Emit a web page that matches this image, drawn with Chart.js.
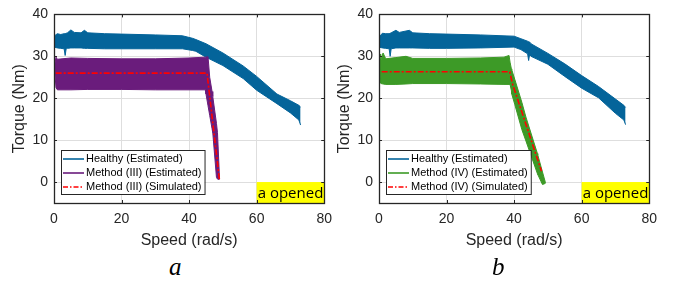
<!DOCTYPE html>
<html>
<head>
<meta charset="utf-8">
<script src="https://cdn.jsdelivr.net/npm/chart.js@4.4.1/dist/chart.umd.min.js"></script>
<style>
  body { margin: 0; background: #fff; width: 679px; height: 284px; position: relative; overflow: hidden; }
  .panel { position: absolute; top: 0; width: 340px; height: 250px; }
  .tag { position: absolute; top: 254px; font: italic 25px "Liberation Serif", "DejaVu Serif", serif; line-height: 25px; color: #000; }
</style>
</head>
<body>
<div class="panel" style="left:0"><canvas id="chartA" width="340" height="250"></canvas></div>
<div class="panel" style="left:325px"><canvas id="chartB" width="340" height="250"></canvas></div>
<div class="tag" style="left:169px">a</div>
<div class="tag" style="left:492px">b</div>
<script>
const xTicks = [0, 20, 40, 60, 80];
const yTicks = [0, 10, 20, 30, 40];
const openedX = [60, 80];
const openedY = [-5, 0];
const openedText = 'a opened';

// panel a: each band = one speed list + upper and lower torque envelope
const healthyAX  = [0, 1, 2, 3, 3.3, 3.6, 4, 5, 6, 8, 9, 10, 15, 20, 30, 38, 41, 42, 45, 50, 56, 60, 66, 70, 72.5, 73];
const healthyAUp = [34.8, 35.4, 35.2, 35.4, 35.4, 35.5, 35.6, 36.3, 35.7, 35.6, 36.2, 35.6, 35.4, 35.3, 35.1, 34.9, 34.3, 34.0, 33.0, 30.8, 27.7, 25.2, 21.0, 19.4, 18.3, 17.9];
const healthyALo = [32.2, 32.0, 31.9, 31.8, 30.2, 31.8, 31.9, 32.0, 32.0, 32.0, 31.9, 31.9, 31.8, 31.8, 31.8, 31.8, 31.4, 31.2, 29.8, 27.8, 24.7, 21.9, 18.7, 16.5, 14.8, 13.6];
const methodAX  = [0.3, 0.6, 1, 5, 10, 20, 30, 40, 44.8, 45.0, 45.6, 46.1, 46.8, 47.0, 48.1, 48.4, 49.0];
const methodAUp = [28.5, 29.8, 29.3, 29.6, 29.5, 29.4, 29.4, 29.6, 29.8, 29.8, 29.9, 25.0, 21.6, 20.4, 14.0, 11.8, 1.0];
const methodALo = [25.5, 22.5, 22.0, 22.0, 22.1, 22.1, 22.0, 22.0, 22.0, 21.0, 18.2, 15.9, 12.7, 11.8, 1.1, 0.7, 0.6];
const simAX = [0.5, 45.3, 49.0];
const simAY = [26, 26, 0.4];
const labelsA = ['Healthy (Estimated)', 'Method (III) (Estimated)', 'Method (III) (Simulated)'];

// panel b
const healthyBX  = [0, 1, 2, 3, 3.3, 3.6, 5, 6, 9, 10, 15, 20, 30, 40, 42, 44, 44.3, 44.6, 45, 50, 55, 60, 65, 70, 72.5, 73];
const healthyBUp = [34.6, 35.5, 35.4, 35.4, 35.5, 35.6, 36.2, 35.7, 36.2, 35.6, 35.4, 35.3, 35.1, 34.8, 34.2, 33.6, 33.5, 33.4, 33.0, 30.7, 28.2, 25.4, 22.8, 19.8, 18.3, 17.8];
const healthyBLo = [32.2, 32.0, 31.9, 31.8, 30.0, 31.8, 32.0, 32.0, 32.0, 32.0, 31.9, 31.9, 32.0, 32.2, 31.6, 30.6, 29.0, 30.5, 30.0, 28.1, 25.2, 22.4, 20.1, 16.4, 14.8, 13.7];
const methodBX  = [0, 0.3, 0.5, 0.6, 1.2, 2, 5, 8, 10, 20, 30, 37, 38.5, 38.8, 39.2, 39.3, 40.2, 42.3, 43.5, 46.9, 47, 48.4, 49.3];
const methodBUp = [28.3, 30.5, 29.8, 29.2, 30.8, 29.4, 29.7, 30.0, 29.5, 29.5, 29.6, 29.8, 30.2, 28.6, 27.0, 26.8, 24.5, 19.0, 15.5, 6.8, 6.5, 2.4, -0.2];
const methodBLo = [25.5, 24.6, 23.6, 23.5, 23.4, 23.3, 23.3, 23.4, 23.5, 23.5, 23.4, 23.3, 23.3, 23.3, 21.8, 21.0, 18.5, 12.5, 9.8, 2.0, 1.8, -0.6, -0.3];
const simBX = [0.8, 38.7, 39.5, 48.1];
const simBY = [26.3, 26.3, 23.5, 2.6];
const labelsB = ['Healthy (Estimated)', 'Method (IV) (Estimated)', 'Method (IV) (Simulated)'];

const BLUE = '#04649a';
const PURPLE = '#6a1c7c';
const GREEN = '#3d9a27';
const RED = '#ff0000';
const AXIS = '#262626';
const SANS = '"Liberation Sans", Arial, sans-serif';

function pts(xs, ys) {
  return xs.map((x, i) => ({ x: x, y: ys[i] }));
}

const openedPlugin = {
  id: 'opened',
  beforeDatasetsDraw(chart) {
    const { ctx, scales: { x, y } } = chart;
    const x0 = x.getPixelForValue(openedX[0]), x1 = x.getPixelForValue(openedX[1]);
    const y0 = y.getPixelForValue(openedY[1]), y1 = y.getPixelForValue(openedY[0]);
    ctx.save();
    ctx.fillStyle = '#ffff00';
    ctx.fillRect(x0, y0, x1 - x0, y1 - y0);
    ctx.fillStyle = '#000';
    ctx.font = '15px "Open Sans", sans-serif';
    ctx.textBaseline = 'alphabetic';
    ctx.fillText(openedText, x0 + 1, y1 - 5);
    ctx.restore();
  }
};

const boxPlugin = {
  id: 'axesBox',
  afterDraw(chart, args, opts) {
    const { ctx, chartArea: a, scales: { x, y } } = chart;
    ctx.save();
    ctx.strokeStyle = AXIS;
    ctx.lineWidth = 1;
    ctx.beginPath();
    xTicks.forEach(v => {
      const px = Math.round(x.getPixelForValue(v)) + 0.5;
      ctx.moveTo(px, a.bottom); ctx.lineTo(px, a.bottom - 3);
      ctx.moveTo(px, a.top); ctx.lineTo(px, a.top + 3);
    });
    yTicks.forEach(v => {
      const py = Math.round(y.getPixelForValue(v)) + 0.5;
      ctx.moveTo(a.left, py); ctx.lineTo(a.left + 3, py);
      ctx.moveTo(a.right, py); ctx.lineTo(a.right - 3, py);
    });
    ctx.stroke();
    ctx.lineWidth = 1.3;
    ctx.strokeRect(Math.round(a.left) + 0.5, Math.round(a.top) + 0.5, Math.round(a.right - a.left), Math.round(a.bottom - a.top));

    // legend inside the axes
    const items = opts.items;
    ctx.font = '11px ' + SANS;
    const tw = Math.max(...items.map(it => ctx.measureText(it.text).width));
    const w = 25 + tw + 3, h = 44;
    const lx = Math.round(a.left) + 7, ly = Math.round(a.bottom) - 9 - h;
    ctx.fillStyle = '#fff';
    ctx.fillRect(lx, ly, w, h);
    ctx.lineWidth = 1;
    ctx.strokeStyle = AXIS;
    ctx.strokeRect(lx + 0.5, ly + 0.5, w, h);
    items.forEach((it, i) => {
      const yy = ly + 9 + i * 14;
      ctx.strokeStyle = it.color;
      ctx.lineWidth = 1.6;
      ctx.setLineDash(it.dash || []);
      ctx.beginPath(); ctx.moveTo(lx + 2, yy); ctx.lineTo(lx + 23, yy); ctx.stroke();
      ctx.setLineDash([]);
      ctx.fillStyle = '#000';
      ctx.textBaseline = 'middle';
      ctx.fillText(it.text, lx + 25, yy);
    });
    ctx.restore();
  }
};

function makeChart(id, hX, hUp, hLo, mX, mUp, mLo, sX, sY, labels, mColor) {
  const line = { showLine: true, pointRadius: 0, tension: 0, borderWidth: 1 };
  new Chart(document.getElementById(id), {
    type: 'line',
    data: {
      datasets: [
        Object.assign({ label: labels[0], data: pts(hX, hUp), borderColor: BLUE, fill: false, order: 5 }, line),
        Object.assign({ label: labels[0] + ' lo', data: pts(hX, hLo), borderColor: BLUE, backgroundColor: BLUE, fill: '-1', order: 4 }, line),
        Object.assign({ label: labels[1], data: pts(mX, mUp), borderColor: mColor, fill: false, order: 3 }, line),
        Object.assign({ label: labels[1] + ' lo', data: pts(mX, mLo), borderColor: mColor, backgroundColor: mColor, fill: '-1', order: 2 }, line),
        Object.assign({}, line, { label: labels[2], data: pts(sX, sY), borderColor: RED, borderWidth: 1.6, borderDash: [6, 2, 2, 2], fill: false, order: 1 })
      ]
    },
    options: {
      responsive: false,
      animation: false,
      layout: { padding: { top: 6, right: 13, left: 0, bottom: 0 } },
      plugins: {
        legend: { display: false },
        tooltip: { enabled: false },
        axesBox: {
          items: [
            { text: labels[0], color: BLUE },
            { text: labels[1], color: mColor },
            { text: labels[2], color: RED, dash: [5, 2, 1.5, 2] }
          ]
        }
      },
      scales: {
        x: {
          type: 'linear', min: 0, max: 80,
          afterBuildTicks: s => { s.ticks = xTicks.map(v => ({ value: v })); },
          afterFit: s => { s.height = 47; },
          grid: { color: '#dedede', drawTicks: false },
          border: { display: false },
          ticks: { color: AXIS, font: { size: 14, family: SANS }, padding: 8, maxRotation: 0 },
          title: { display: true, text: 'Speed (rad/s)', color: AXIS, font: { size: 16, family: SANS }, padding: { top: 0, bottom: 0 } }
        },
        y: {
          type: 'linear', min: -5, max: 40,
          afterBuildTicks: s => { s.ticks = yTicks.map(v => ({ value: v })); },
          afterFit: s => { s.width = 54; },
          grid: { color: '#dedede', drawTicks: false },
          border: { display: false },
          ticks: { color: AXIS, font: { size: 14, family: SANS }, padding: 6 },
          title: { display: true, text: 'Torque (Nm)', color: AXIS, font: { size: 16, family: SANS }, padding: { top: 10, bottom: 0 } }
        }
      }
    },
    plugins: [openedPlugin, boxPlugin]
  });
}

makeChart('chartA', healthyAX, healthyAUp, healthyALo, methodAX, methodAUp, methodALo, simAX, simAY, labelsA, PURPLE);
makeChart('chartB', healthyBX, healthyBUp, healthyBLo, methodBX, methodBUp, methodBLo, simBX, simBY, labelsB, GREEN);
</script>
</body>
</html>
